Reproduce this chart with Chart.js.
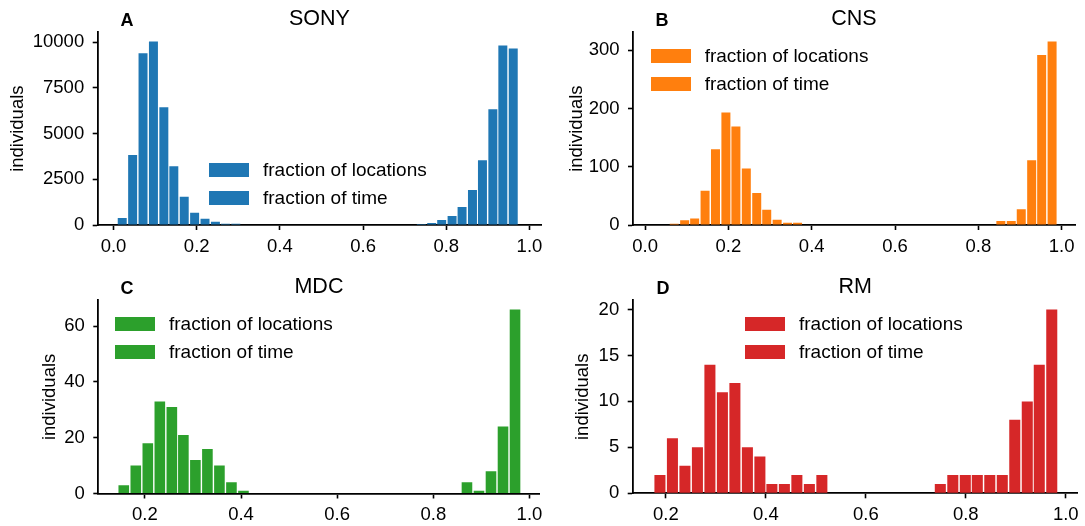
<!DOCTYPE html>
<html>
<head>
<meta charset="utf-8">
<script src="https://cdn.jsdelivr.net/npm/chart.js@4.4.1/dist/chart.umd.min.js"></script>
<style>
  body { margin: 0; background: #fff; }
  #fig { position: relative; width: 1085px; height: 526px; overflow: hidden;
         font-family: 'Liberation Sans', Arial, Helvetica, sans-serif; color: #000; }
  #fig canvas { position: absolute; }
  .tag { position: absolute; font-weight: bold; font-size: 18px; line-height: 1; transform: translate(-50%, -50%); }
  .legend { position: absolute; font-size: 19px; }
  .legend .row { display: flex; align-items: center; height: 27.3px; white-space: nowrap; }
  .legend .sw { width: 40px; height: 14px; margin-right: 14px; flex: none; }
</style>
</head>
<body>
<div id="fig"></div>
<script>
// histogram bin centres + counts (individuals per bin)
const sonyLocX  = [0.021, 0.046, 0.071, 0.096, 0.121, 0.145, 0.170, 0.195, 0.220, 0.245, 0.269, 0.294];
const sonyLocN  = [380, 3820, 9380, 10030, 6430, 3215, 1545, 670, 345, 180, 75, 65];
const sonyTimeX = [0.740, 0.765, 0.789, 0.814, 0.838, 0.863, 0.887, 0.912, 0.936, 0.961];
const sonyTimeN = [55, 110, 270, 490, 980, 1910, 3540, 6320, 9810, 9650];

const cnsLocX  = [0.070, 0.095, 0.119, 0.144, 0.169, 0.194, 0.218, 0.243, 0.268, 0.292, 0.317, 0.342, 0.366];
const cnsLocN  = [2, 8, 11, 59, 130, 193, 169, 97, 55, 26, 9, 4, 4];
const cnsTimeX = [0.780, 0.805, 0.829, 0.854, 0.879, 0.903, 0.928, 0.952, 0.977];
const cnsTimeN = [1, 1, 0, 7, 7, 27, 111, 292, 315];

const mdcLocX  = [0.156, 0.181, 0.206, 0.231, 0.256, 0.280, 0.305, 0.330, 0.355, 0.380, 0.405];
const mdcLocN  = [3, 10, 18, 33, 31, 21, 12, 16, 10, 4, 1];
const mdcTimeX = [0.870, 0.895, 0.920, 0.945, 0.970];
const mdcTimeN = [4, 1, 8, 24, 66];

const rmLocX  = [0.188, 0.213, 0.238, 0.263, 0.288, 0.313, 0.338, 0.363, 0.388, 0.412, 0.437, 0.462, 0.487, 0.512];
const rmLocN  = [2, 6, 3, 5, 14, 11, 12, 5, 4, 1, 1, 2, 1, 2];
const rmTimeX = [0.749, 0.774, 0.799, 0.823, 0.848, 0.873, 0.898, 0.923, 0.947, 0.972];
const rmTimeN = [1, 2, 2, 2, 2, 2, 8, 10, 14, 20];

// axis ticks
const xTicksFull = [0, 0.2, 0.4, 0.6, 0.8, 1.0];
const xTicksTrim = [0.2, 0.4, 0.6, 0.8, 1.0];
const yTicksSony = [0, 2500, 5000, 7500, 10000];
const yTicksCns  = [0, 100, 200, 300];
const yTicksMdc  = [0, 20, 40, 60];
const yTicksRm   = [0, 5, 10, 15, 20];

const seriesLabels = ['fraction of locations', 'fraction of time'];

const FONT = "'Liberation Sans', Arial, Helvetica, sans-serif";
Chart.defaults.font.family = FONT;
Chart.defaults.color = '#000';

const YLABEL_SIZE = 18.5, YLABEL_PAD = 4;

// panel layout in page px: box = canvas, plot = axes rectangle
const panels = [
  { tag: 'A', title: 'SONY', color: '#1f77b4',
    loc: [sonyLocX, sonyLocN], time: [sonyTimeX, sonyTimeN],
    xMin: -0.038, xMax: 1.028, xTicks: xTicksFull, yTicks: yTicksSony,
    box: { x: 0, y: 0, w: 548, h: 262 }, plot: { left: 97.7, right: 541.5, bottom: 225 },
    ylabelX: 17.5, tagAt: [127, 19.7], legendAt: [209, 170.5], barPct: 0.9 },
  { tag: 'B', title: 'CNS', color: '#ff7f0e',
    loc: [cnsLocX, cnsLocN], time: [cnsTimeX, cnsTimeN],
    xMin: -0.029, xMax: 1.032, xTicks: xTicksFull, yTicks: yTicksCns,
    box: { x: 545, y: 0, w: 540, h: 262 }, plot: { left: 633, right: 1075, bottom: 225 },
    ylabelX: 577, tagAt: [662, 19.7], legendAt: [650.7, 56.3], barPct: 0.9 },
  { tag: 'C', title: 'MDC', color: '#2ca02c',
    loc: [mdcLocX, mdcLocN], time: [mdcTimeX, mdcTimeN],
    xMin: 0.103, xMax: 1.021, xTicks: xTicksTrim, yTicks: yTicksMdc,
    box: { x: 0, y: 268, w: 548, h: 258 }, plot: { left: 98.3, right: 541.7, bottom: 493.5 },
    ylabelX: 50, tagAt: [127, 288], legendAt: [115, 324.5], barPct: 0.92 },
  { tag: 'D', title: 'RM', color: '#d62728',
    loc: [rmLocX, rmLocN], time: [rmTimeX, rmTimeN],
    xMin: 0.1335, xMax: 1.0235, xTicks: xTicksTrim, yTicks: yTicksRm,
    box: { x: 545, y: 268, w: 540, h: 258 }, plot: { left: 632.7, right: 1077.5, bottom: 493.3 },
    ylabelX: 583, tagAt: [663, 287.5], legendAt: [745, 324.3], barPct: 0.92 }
];

const fig = document.getElementById('fig');

function toPoints(xs, ns) { return xs.map((x, i) => ({ x: x, y: ns[i] })); }

function axisLine() {
  return {
    grid: { display: true, drawOnChartArea: false, drawTicks: true, tickLength: 5,
            tickColor: '#000', tickWidth: 1.6, offset: false },
    border: { display: true, color: '#000', width: 1.8 }
  };
}

panels.forEach(p => {
  const cv = document.createElement('canvas');
  cv.width = p.box.w; cv.height = p.box.h;
  cv.style.left = p.box.x + 'px'; cv.style.top = p.box.y + 'px';
  fig.appendChild(cv);

  const padL = p.ylabelX - p.box.x - (YLABEL_SIZE * 1.2 / 2 + YLABEL_PAD);
  const padR = p.box.x + p.box.w - p.plot.right;
  const yAxisW = p.plot.left - p.box.x - padL;
  const xAxisH = p.box.y + p.box.h - p.plot.bottom;
  const yMax = Math.max(...p.loc[1], ...p.time[1]) * 1.05;

  const common = { backgroundColor: p.color, borderWidth: 0, inflateAmount: 0,
                   grouped: false, barPercentage: p.barPct, categoryPercentage: 1 };

  new Chart(cv.getContext('2d'), {
    type: 'bar',
    data: {
      datasets: [
        Object.assign({ label: seriesLabels[0], data: toPoints(p.loc[0], p.loc[1]) }, common),
        Object.assign({ label: seriesLabels[1], data: toPoints(p.time[0], p.time[1]) }, common)
      ]
    },
    options: {
      responsive: false, animation: false,
      layout: { padding: { left: padL, right: padR, top: 0, bottom: 0 } },
      plugins: {
        legend: { display: false },
        tooltip: { enabled: false },
        title: { display: true, text: p.title, fullSize: false, color: '#000',
                 font: { size: 21.5, weight: 'normal' }, padding: { top: 6.5, bottom: 0 } }
      },
      scales: {
        x: Object.assign({
          type: 'linear', min: p.xMin, max: p.xMax, offset: false,
          afterBuildTicks: s => { s.ticks = p.xTicks.map(v => ({ value: v })); },
          afterFit: s => { s.height = xAxisH; },
          ticks: { font: { size: 18.5 }, padding: 5.5, maxRotation: 0, autoSkip: false,
                   callback: v => Number(v).toFixed(1) }
        }, axisLine()),
        y: Object.assign({
          type: 'linear', min: 0, max: yMax,
          afterBuildTicks: s => { s.ticks = p.yTicks.map(v => ({ value: v })); },
          afterFit: s => { s.width = yAxisW; },
          ticks: { font: { size: 18.5 }, padding: 8.5, autoSkip: false, callback: v => String(v) },
          title: { display: true, text: 'individuals', font: { size: YLABEL_SIZE },
                   padding: { top: YLABEL_PAD, bottom: 0 } }
        }, axisLine())
      }
    }
  });

  // panel letter
  const tag = document.createElement('div');
  tag.className = 'tag';
  tag.textContent = p.tag;
  tag.style.left = p.tagAt[0] + 'px'; tag.style.top = p.tagAt[1] + 'px';
  fig.appendChild(tag);

  // legend box, two rows with the same colour swatch
  const lg = document.createElement('div');
  lg.className = 'legend';
  lg.style.left = p.legendAt[0] + 'px';
  lg.style.top = (p.legendAt[1] - 27.3 / 2) + 'px';
  seriesLabels.forEach(txt => {
    const row = document.createElement('div');
    row.className = 'row';
    row.innerHTML = `<span class="sw" style="background:${p.color}"></span><span>${txt}</span>`;
    lg.appendChild(row);
  });
  fig.appendChild(lg);
});
</script>
</body>
</html>
